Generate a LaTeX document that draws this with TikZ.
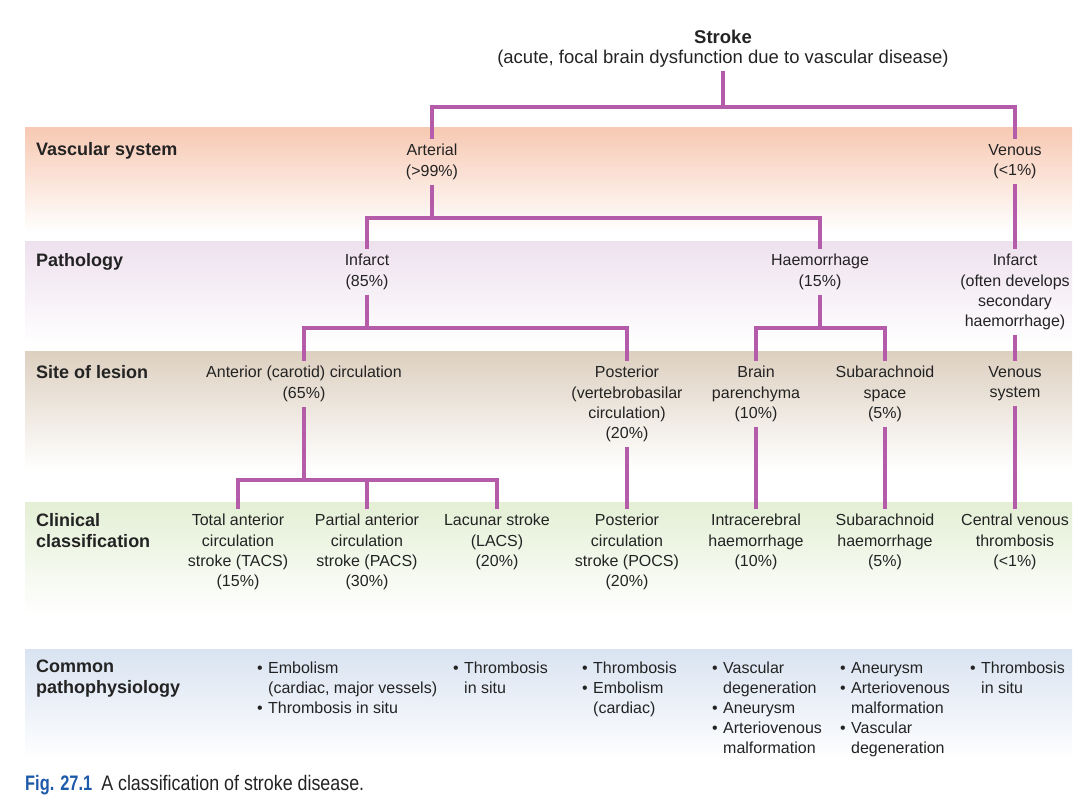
\documentclass[tikz,border=0pt]{standalone}
\usepackage{fontspec}
\setmainfont{Liberation Sans}
\newfontfamily\capfont[FakeStretch=0.85]{Liberation Sans}
\newfontfamily\figfont[FakeStretch=0.78]{Liberation Sans}
\usepackage{xcolor}

\definecolor{treeline}{RGB}{180,92,170}
\definecolor{vascband}{RGB}{247,201,179}
\definecolor{pathband}{RGB}{238,225,238}
\definecolor{siteband}{RGB}{221,208,192}
\definecolor{clinband}{RGB}{228,239,213}
\definecolor{commband}{RGB}{217,227,241}
\definecolor{figblue}{RGB}{30,90,170}
\definecolor{txt}{RGB}{35,35,35}

\tikzset{
  tree/.style={draw=treeline, line width=4pt},
  box/.style={anchor=north, align=center, inner xsep=2pt, inner ysep=5pt,
    font=\fontsize{16}{20.3}\selectfont, text=txt},
  rowlabel/.style={anchor=north west, align=left, inner sep=0pt,
    font=\bfseries\fontsize{18}{21}\selectfont, text=txt},
  bullets/.style={anchor=north west, align=left, inner sep=0pt,
    font=\fontsize{16}{20}\selectfont, text=txt},
}
\newcommand{\bul}{\makebox[11pt][l]{\textbullet}}
\newcommand{\ind}{\hspace*{11pt}}

\begin{document}
\begin{tikzpicture}[x=1pt, y=-1pt]
    \useasboundingbox (0,0) rectangle (1080,810);

    % bands
    \shade[top color=vascband, middle color=vascband!62, bottom color=white] (25,128) rectangle (1072,232);
    \shade[top color=pathband, middle color=pathband!62, bottom color=white] (25,242) rectangle (1072,345);
    \shade[top color=siteband, middle color=siteband!62, bottom color=white] (25,352) rectangle (1072,470);
    \shade[top color=clinband, middle color=clinband!62, bottom color=white] (25,502) rectangle (1072,615);
    \shade[top color=commband, middle color=commband!62, bottom color=white] (25,649) rectangle (1072,760);

    % row labels
    \node[rowlabel] (lvasc) at (36,142) {Vascular system};
    \node[rowlabel] (lpath) at (36,253) {Pathology};
    \node[rowlabel] (lsite) at (36,365) {Site of lesion};
    \node[rowlabel] (lclin) at (36,513) {Clinical\\classification};
    \node[rowlabel] (lcomm) at (36,660) {Common\\pathophysiology};

    % tree
    \node[box, inner ysep=3pt, font=\fontsize{18.5}{20}\selectfont] (stroke) at (723,27)
        {\textbf{Stroke}\\(acute, focal brain dysfunction due to vascular disease)};
    \node[box] (arterial) at (432,139) {Arterial\\(>99\%)};
    \node[box] (venous) at (1015,139) {Venous\\(<1\%)};
    \node[box] (infarct) at (367,249) {Infarct\\(85\%)};
    \node[box] (haem) at (820,249) {Haemorrhage\\(15\%)};
    \node[box] (vinfarct) at (1015,249) {Infarct\\(often develops\\secondary\\haemorrhage)};
    \node[box] (anterior) at (304,361) {Anterior (carotid) circulation\\(65\%)};
    \node[box] (posterior) at (627,361) {Posterior\\(vertebrobasilar\\circulation)\\(20\%)};
    \node[box] (brain) at (756,361) {Brain\\parenchyma\\(10\%)};
    \node[box] (subspace) at (885,361) {Subarachnoid\\space\\(5\%)};
    \node[box] (vsystem) at (1015,361) {Venous\\system};
    \node[box] (tacs) at (238,509) {Total anterior\\circulation\\stroke (TACS)\\(15\%)};
    \node[box] (pacs) at (367,509) {Partial anterior\\circulation\\stroke (PACS)\\(30\%)};
    \node[box] (lacs) at (497,509) {Lacunar stroke\\(LACS)\\(20\%)};
    \node[box] (pocs) at (627,509) {Posterior\\circulation\\stroke (POCS)\\(20\%)};
    \node[box] (ich) at (756,509) {Intracerebral\\haemorrhage\\(10\%)};
    \node[box] (sah) at (885,509) {Subarachnoid\\haemorrhage\\(5\%)};
    \node[box] (cvt) at (1015,509) {Central venous\\thrombosis\\(<1\%)};

    \coordinate (bar1) at (0,107);
    \coordinate (bar2) at (0,218);
    \coordinate (bar3) at (0,328);
    \coordinate (bar4) at (0,480);

    \draw[tree] (stroke.south) -- (stroke.south |- bar1) -| (arterial.north);
    \draw[tree] (stroke.south |- bar1) -| (venous.north);
    \draw[tree] (arterial.south) -- (arterial.south |- bar2) -| (infarct.north);
    \draw[tree] (arterial.south |- bar2) -| (haem.north);
    \draw[tree] (infarct.south) -- (infarct.south |- bar3) -| (anterior.north);
    \draw[tree] (infarct.south |- bar3) -| (posterior.north);
    \draw[tree] (haem.south) -- (haem.south |- bar3) -| (brain.north);
    \draw[tree] (haem.south |- bar3) -| (subspace.north);
    \draw[tree] (anterior.south) -- (anterior.south |- bar4) -| (tacs.north);
    \draw[tree] (anterior.south |- bar4) -| (lacs.north);
    \draw[tree] (pacs.north |- bar4) -- (pacs.north);
    \draw[tree] (venous) -- (vinfarct);
    \draw[tree] (vinfarct) -- (vsystem);
    \draw[tree] (posterior) -- (pocs);
    \draw[tree] (brain) -- (ich);
    \draw[tree] (subspace) -- (sah);
    \draw[tree] (vsystem) -- (cvt);

    % common pathophysiology
    \node[bullets] (ptacs) at (257,662) {\bul Embolism\\\ind(cardiac, major vessels)\\\bul Thrombosis in situ};
    \node[bullets] (placs) at (453,662) {\bul Thrombosis\\\ind in situ};
    \node[bullets] (ppocs) at (582,662) {\bul Thrombosis\\\bul Embolism\\\ind(cardiac)};
    \node[bullets] (pich) at (712,662) {\bul Vascular\\\ind degeneration\\\bul Aneurysm\\\bul Arteriovenous\\\ind malformation};
    \node[bullets] (psah) at (840,662) {\bul Aneurysm\\\bul Arteriovenous\\\ind malformation\\\bul Vascular\\\ind degeneration};
    \node[bullets] (pcvt) at (970,662) {\bul Thrombosis\\\ind in situ};

    % caption
    \node[anchor=north west, inner sep=0pt, font=\capfont\fontsize{21}{23}\selectfont, text=txt] (caption) at (25,775)
        {\textcolor{figblue}{\figfont\bfseries Fig. 27.1}\hspace{9pt}A classification of stroke disease.};
\end{tikzpicture}
\end{document}
